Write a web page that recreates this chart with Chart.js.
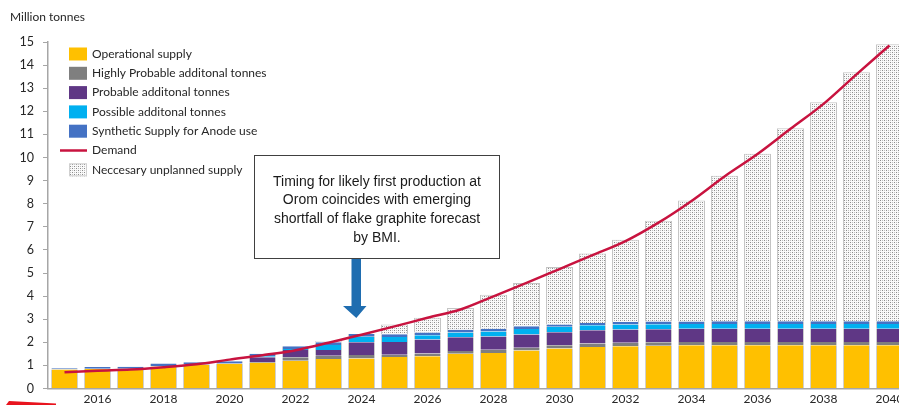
<!DOCTYPE html>
<html>
<head>
<meta charset="utf-8">
<script src="https://cdn.jsdelivr.net/npm/chart.js@4.4.1/dist/chart.umd.min.js"></script>
<style>
  html, body { margin: 0; padding: 0; background: #fff; overflow: hidden; }
  .chart-wrap { position: relative; width: 912px; height: 405px; }
</style>
</head>
<body>
<div class="chart-wrap"><canvas id="graphiteChart"></canvas></div>
<script>
(function () {
    'use strict';

    const years = ['2015', '2016', '2017', '2018', '2019', '2020', '2021', '2022', '2023', '2024', '2025', '2026', '2027',
        '2028', '2029', '2030', '2031', '2032', '2033', '2034', '2035', '2036', '2037', '2038', '2039', '2040'];

    const operational = [0.82, 0.84, 0.85, 0.95, 1.03, 1.06, 1.12, 1.20, 1.28, 1.30, 1.36, 1.40, 1.50,
        1.54, 1.64, 1.73, 1.80, 1.83, 1.85, 1.87, 1.87, 1.87, 1.87, 1.87, 1.87, 1.87];
    const highlyProbable = [0.01, 0.01, 0.01, 0.01, 0.01, 0.02, 0.03, 0.15, 0.14, 0.15, 0.10, 0.12, 0.12,
        0.14, 0.12, 0.14, 0.15, 0.15, 0.15, 0.14, 0.14, 0.14, 0.14, 0.14, 0.14, 0.14];
    const probable = [0, 0, 0, 0, 0, 0, 0.20, 0.32, 0.25, 0.55, 0.55, 0.60, 0.60,
        0.57, 0.58, 0.56, 0.57, 0.57, 0.57, 0.58, 0.58, 0.58, 0.58, 0.58, 0.58, 0.58];
    const possible = [0, 0, 0, 0, 0, 0, 0.05, 0.04, 0.21, 0.24, 0.22, 0.18, 0.20,
        0.22, 0.24, 0.24, 0.22, 0.22, 0.21, 0.20, 0.20, 0.20, 0.20, 0.20, 0.20, 0.20];
    const synthetic = [0.05, 0.08, 0.08, 0.12, 0.10, 0.10, 0.10, 0.12, 0.12, 0.12, 0.12, 0.12, 0.12,
        0.12, 0.12, 0.10, 0.10, 0.11, 0.12, 0.11, 0.12, 0.12, 0.12, 0.12, 0.12, 0.12];
    const unplanned = [0, 0, 0, 0, 0, 0, 0, 0, 0.05, 0, 0.42, 0.64, 0.95,
        1.47, 1.87, 2.49, 3.00, 3.56, 4.36, 5.24, 6.30, 7.25, 8.36, 9.48, 10.78, 11.99];
    const demand = [0.70, 0.77, 0.82, 0.92, 1.05, 1.25, 1.44, 1.66, 1.98, 2.33, 2.69, 3.06, 3.42,
        3.99, 4.57, 5.17, 5.77, 6.38, 7.18, 8.12, 9.18, 10.15, 11.24, 12.32, 13.60, 14.85];

    const calloutLines = [
        'Timing for likely first production at',
        'Orom coincides with emerging',
        'shortfall of flake graphite forecast',
        'by BMI.'
    ];

    const palette = {
        yellow: '#ffc000',
        gray: '#7f7f7f',
        purple: '#5f3785',
        cyan: '#00b0f0',
        blue: '#4472c4',
        red: '#c8133f',
        arrow: '#1f6db0',
        axis: '#a6a6a6',
        text: '#262626'
    };

    const labelFont = "Lato, 'Open Sans', sans-serif";

    // stippled fill for the unplanned supply bars
    function dotPattern() {
        const tile = document.createElement('canvas');
        tile.width = 4;
        tile.height = 4;
        const t = tile.getContext('2d');
        t.fillStyle = '#fafafa';
        t.fillRect(0, 0, 4, 4);
        t.fillStyle = '#8c8c8c';
        t.fillRect(0, 0, 1, 1);
        t.fillRect(2, 2, 1, 1);
        t.fillStyle = '#c2c2c2';
        t.fillRect(2, 0, 1, 1);
        t.fillRect(0, 2, 1, 1);
        return t.createPattern(tile, 'repeat');
    }

    const canvas = document.getElementById('graphiteChart');
    const stipple = dotPattern();

    function barSet(label, data, color, extra) {
        return Object.assign({
            type: 'bar',
            label,
            data,
            backgroundColor: color,
            borderColor: 'rgba(120, 120, 120, 0.35)',
            borderWidth: { left: 1, right: 1, top: 0, bottom: 0 },
            stack: 'supply',
            order: 2,
            barPercentage: 0.82,
            categoryPercentage: 1
        }, extra || {});
    }

    const legendRows = [
        { text: 'Operational supply', fill: palette.yellow },
        { text: 'Highly Probable additonal tonnes', fill: palette.gray },
        { text: 'Probable additonal tonnes', fill: palette.purple },
        { text: 'Possible additonal tonnes', fill: palette.cyan },
        { text: 'Synthetic Supply for Anode use', fill: palette.blue },
        { text: 'Demand', line: palette.red },
        { text: 'Neccesary unplanned supply', fill: stipple, border: '#d0d0d0' }
    ];

    const decorations = {
        id: 'decorations',
        afterDraw(chart) {
            const ctx = chart.ctx;
            ctx.save();

            // axis unit caption
            ctx.fillStyle = palette.text;
            ctx.font = '12px ' + labelFont;
            ctx.textBaseline = 'middle';
            ctx.textAlign = 'left';
            ctx.fillText('Million tonnes', 10, 17);

            // legend block inside the plot
            ctx.font = '12px ' + labelFont;
            legendRows.forEach((row, i) => {
                const cy = 54 + i * 19.3;
                if (row.line) {
                    ctx.strokeStyle = row.line;
                    ctx.lineWidth = 2.5;
                    ctx.beginPath();
                    ctx.moveTo(60, cy);
                    ctx.lineTo(87, cy);
                    ctx.stroke();
                } else {
                    ctx.fillStyle = row.fill;
                    ctx.fillRect(69, cy - 6.5, 18, 13);
                    if (row.border) {
                        ctx.strokeStyle = row.border;
                        ctx.lineWidth = 1;
                        ctx.strokeRect(69.5, cy - 6, 17, 12);
                    }
                }
                ctx.fillStyle = palette.text;
                ctx.fillText(row.text, 92, cy);
            });

            // callout box
            ctx.fillStyle = '#ffffff';
            ctx.fillRect(254, 155, 245, 103);
            ctx.strokeStyle = '#404040';
            ctx.lineWidth = 1;
            ctx.strokeRect(254.5, 155.5, 245, 103);
            ctx.fillStyle = '#1a1a1a';
            ctx.font = "14px 'Liberation Sans', Arial, sans-serif";
            ctx.textAlign = 'center';
            calloutLines.forEach((line, i) => {
                ctx.fillText(line, 377, 182 + i * 18.6);
            });

            // downward arrow under the callout
            ctx.fillStyle = palette.arrow;
            ctx.beginPath();
            ctx.moveTo(351.5, 259);
            ctx.lineTo(361, 259);
            ctx.lineTo(361, 306);
            ctx.lineTo(366.5, 306);
            ctx.lineTo(356.3, 318);
            ctx.lineTo(343, 306);
            ctx.lineTo(351.5, 306);
            ctx.closePath();
            ctx.fill();

            // red sliver at the bottom-left edge
            ctx.fillStyle = '#e8141e';
            ctx.beginPath();
            ctx.moveTo(6, 405);
            ctx.lineTo(9, 401);
            ctx.lineTo(56, 403.5);
            ctx.lineTo(56, 405);
            ctx.closePath();
            ctx.fill();

            ctx.restore();
        }
    };

    new Chart(canvas, {
        data: {
            labels: years,
            datasets: [
                {
                    type: 'line',
                    label: 'Demand',
                    data: demand,
                    borderColor: palette.red,
                    borderWidth: 2.5,
                    pointRadius: 0,
                    cubicInterpolationMode: 'monotone',
                    stack: 'demand',
                    order: 0
                },
                barSet('Operational supply', operational, palette.yellow),
                barSet('Highly Probable additonal tonnes', highlyProbable, palette.gray),
                barSet('Probable additonal tonnes', probable, palette.purple),
                barSet('Possible additonal tonnes', possible, palette.cyan),
                barSet('Synthetic Supply for Anode use', synthetic, palette.blue),
                barSet('Neccesary unplanned supply', unplanned, stipple, {
                    borderColor: '#c4c4c4',
                    borderWidth: { top: 1, left: 1, right: 1, bottom: 0 }
                })
            ]
        },
        options: {
            responsive: true,
            maintainAspectRatio: false,
            animation: false,
            layout: { padding: { top: 42, right: 6, left: 0, bottom: 0 } },
            plugins: {
                legend: { display: false },
                tooltip: { enabled: false }
            },
            scales: {
                x: {
                    stacked: true,
                    afterFit(scale) { scale.height = 16; },
                    grid: { display: false, drawTicks: false },
                    border: { color: palette.axis, width: 1.5 },
                    ticks: {
                        autoSkip: false,
                        maxRotation: 0,
                        padding: 3,
                        color: palette.text,
                        font: { family: labelFont, size: 12 },
                        callback(value, index) {
                            const year = years[index];
                            return Number(year) % 2 === 0 ? year : '';
                        }
                    }
                },
                y: {
                    stacked: true,
                    min: 0,
                    max: 15,
                    afterFit(scale) { scale.width = 48; },
                    grid: {
                        drawOnChartArea: false,
                        tickLength: 5,
                        color: palette.axis
                    },
                    border: { color: palette.axis, width: 1.5 },
                    ticks: {
                        stepSize: 1,
                        padding: 9,
                        color: palette.text,
                        font: { family: labelFont, size: 12.5 }
                    }
                }
            }
        },
        plugins: [decorations]
    });
})();
</script>
</body>
</html>
